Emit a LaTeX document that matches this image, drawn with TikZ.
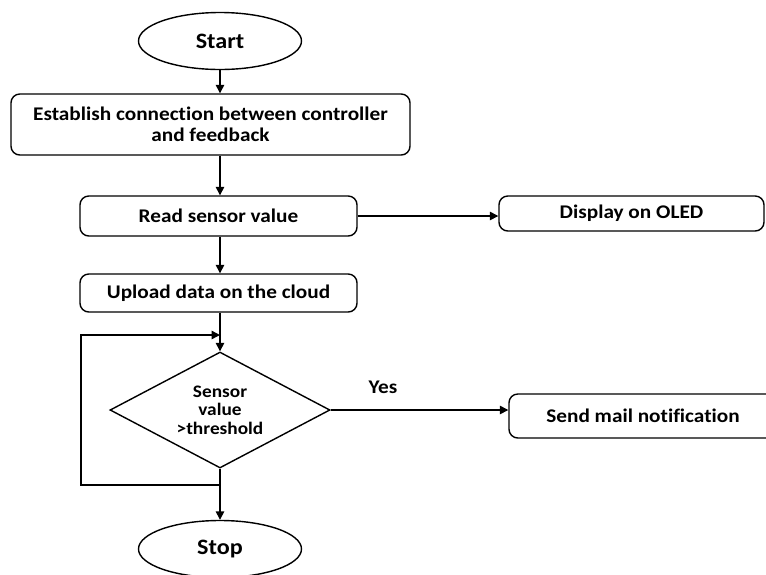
\documentclass[tikz,border=0pt]{standalone}
\usepackage{fontspec}
\setmainfont{Carlito}[FakeStretch=1.1,Ligatures=NoCommon]
\usetikzlibrary{arrows.meta,positioning,shapes}

\begin{document}
\begin{tikzpicture}[font=\bfseries\fontsize{11}{12}\selectfont,line width=0.8pt,
  term/.style={draw,ellipse,minimum width=3.26cm,minimum height=1.14cm,font=\bfseries\fontsize{12.5}{14}\selectfont},
  box/.style={draw,rounded corners=5pt,align=center,inner sep=2pt},
  decision/.style={draw,diamond,aspect=1.9,align=center,inner sep=0pt,minimum width=4.4cm,minimum height=2.32cm,font=\bfseries\fontsize{10}{10.5}\selectfont},
  arr/.style={-{Triangle[length=1.7mm,width=1.7mm]}}]
\clip (0,0) rectangle (15.32,-11.48);
\node[term] (start) at (4.4,-0.82) {Start};
\node[box,minimum width=7.98cm,minimum height=1.22cm] (conn) at (4.21,-2.49) {Establish connection between controller\\and feedback};
\node[box,minimum width=5.54cm,minimum height=0.8cm] (read) at (4.37,-4.32) {Read sensor value};
\node[box,minimum width=5.3cm,minimum height=0.7cm] (oled) at (12.63,-4.27) {Display on OLED};
\node[box,minimum width=5.54cm,minimum height=0.76cm] (cloud) at (4.37,-5.86) {Upload data on the cloud};
\node[decision] (dec) at (4.4,-8.2) {Sensor\\value\\>threshold};
\node[box,minimum width=5.36cm,minimum height=0.88cm] (mail) at (12.86,-8.32) {Send mail notification};
\node[term] (stop) at (4.4,-10.98) {Stop};
\node (yes) at (7.66,-7.74) {Yes};
\coordinate (lp) at (4.4,-9.7);
\coordinate (lb) at (1.62,-9.7);
\coordinate (lt) at (1.62,-6.7);
\coordinate (lj) at (4.4,-6.7);
\draw[arr] (start.south) -- (start.south |- conn.north);
\draw[arr] (start.south |- conn.south) -- (start.south |- read.north);
\draw[arr] (read.east) -- (read.east -| oled.west);
\draw[arr] (start.south |- read.south) -- (start.south |- cloud.north);
\draw[arr] (start.south |- cloud.south) -- (dec.north);
\draw[arr] (dec.east) -- (dec.east -| mail.west);
\draw[arr] (dec.south) -- (stop.north);
\draw[arr] (lp) -- (lb) -- (lt) -- (lj);
\end{tikzpicture}
\end{document}
